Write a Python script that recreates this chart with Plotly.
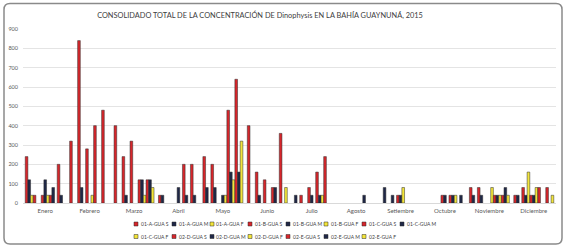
import plotly.graph_objects as go

months = ["Enero", "Febrero", "Marzo", "Abril", "Mayo", "Junio", "Julio",
          "Agosto", "Setiembre", "Octubre", "Noviembre", "Diciembre"]

series_names = ["01-A-GUA S", "01-A-GUA M", "01-A-GUA F",
                "01-B-GUA S", "01-B-GUA M", "01-B-GUA F",
                "01-C-GUA S", "01-C-GUA M", "01-C-GUA F",
                "02-D-GUA S", "02-D-GUA M", "02-D-GUA F",
                "02-E-GUA S", "02-E-GUA M", "02-E-GUA F"]

a_s = [240, 320, 400, 40, 240, 400, 0, 0, 0, 0, 80, 40]
a_m = [120, 0, 0, 40, 80, 0, 40, 0, 80, 0, 40, 40]
a_f = [40, 0, 0, 0, 0, 0, 0, 0, 0, 0, 0, 0]
b_s = [40, 840, 240, 0, 200, 160, 40, 0, 0, 0, 80, 80]
b_m = [0, 80, 40, 0, 80, 40, 0, 0, 40, 0, 40, 40]
b_f = [0, 0, 0, 0, 0, 0, 0, 0, 0, 0, 0, 160]
c_s = [40, 280, 320, 0, 0, 120, 80, 0, 40, 40, 0, 40]
c_m = [120, 0, 0, 80, 40, 0, 40, 0, 40, 40, 0, 40]
c_f = [40, 40, 0, 0, 40, 0, 0, 0, 80, 0, 80, 80]
d_s = [40, 400, 120, 200, 480, 80, 160, 0, 0, 40, 40, 80]
d_m = [80, 0, 120, 40, 160, 80, 40, 40, 0, 40, 40, 0]
d_f = [0, 0, 40, 0, 120, 0, 40, 0, 0, 40, 40, 0]
e_s = [200, 480, 120, 200, 640, 360, 240, 0, 0, 0, 40, 80]
e_m = [40, 0, 120, 40, 160, 0, 0, 0, 0, 40, 80, 0]
e_f = [0, 0, 80, 0, 320, 80, 0, 0, 0, 0, 40, 40]

series_values = [a_s, a_m, a_f, b_s, b_m, b_f, c_s, c_m, c_f,
                 d_s, d_m, d_f, e_s, e_m, e_f]

depth_colors = {"S": "#D7262B", "M": "#1F2747", "F": "#F3E53A"}
FONT = "Lato, 'Open Sans', sans-serif"

W, H = 567, 248
ML, MR, MT, MB = 23, 11, 29, 45
PW, PH = W - ML - MR, H - MT - MB


def px_x(px):
    return (px - ML) / PW


def px_y(py):
    return (H - MB - py) / PH


fig = go.Figure()
for name, vals in zip(series_names, series_values):
    col = depth_colors[name[-1]]
    fig.add_trace(go.Bar(
        x=months, y=[v if v else None for v in vals], name=name,
        marker=dict(color=col, line=dict(color="#2a2a2a", width=0.5)),
        showlegend=False,
    ))

shapes = []
annotations = []

# custom legend (two rows, as in the reference)
for i, name in enumerate(series_names):
    row = 0 if i < 8 else 1
    col = i if i < 8 else i - 8
    lx = 134 + col * 38
    ly = 224 if row == 0 else 236.5
    shapes.append(dict(
        type="rect", xref="paper", yref="paper",
        xsizemode="pixel", ysizemode="pixel",
        xanchor=px_x(lx), yanchor=px_y(ly),
        x0=0, x1=4, y0=-2, y1=2,
        fillcolor=depth_colors[name[-1]], line=dict(color="#2a2a2a", width=0.5),
    ))
    annotations.append(dict(
        text=name, xref="paper", yref="paper", x=px_x(lx + 4.5), y=px_y(ly),
        xanchor="left", yanchor="middle", showarrow=False,
        font=dict(family=FONT, size=5.0, color="#404040"),
    ))

# rounded chart border
bx0, bx1, by0, by1, r = 4, 562, 3.5, 244, 6
x0, x1 = px_x(bx0), px_x(bx1)
y0, y1 = px_y(by1), px_y(by0)
rx, ry = r / PW, r / PH
path = (f"M {x0+rx},{y1} L {x1-rx},{y1} Q {x1},{y1} {x1},{y1-ry} "
        f"L {x1},{y0+ry} Q {x1},{y0} {x1-rx},{y0} L {x0+rx},{y0} "
        f"Q {x0},{y0} {x0},{y0+ry} L {x0},{y1-ry} Q {x0},{y1} {x0+rx},{y1} Z")
shapes.append(dict(type="path", xref="paper", yref="paper", path=path,
                   line=dict(color="#8a8a8a", width=1.5), layer="above"))

fig.update_layout(
    width=W, height=H,
    margin=dict(l=ML, r=MR, t=MT, b=MB),
    paper_bgcolor="white", plot_bgcolor="white",
    barmode="group", bargap=0.1, bargroupgap=0,
    title=dict(
        text="CONSOLIDADO TOTAL DE LA CONCENTRACIÓN DE Dinophysis EN LA BAHÍA GUAYNUNÁ, 2015",
        x=260 / W, xref="container", xanchor="center",
        y=1 - 15 / H, yref="container", yanchor="middle",
        font=dict(family=FONT, size=7.4, color="#404040"),
    ),
    xaxis=dict(showgrid=False, showline=True, linecolor="#d9d9d9", linewidth=1,
               ticks="", tickfont=dict(family=FONT, size=6, color="#595959"),
               ticklabelstandoff=2, automargin=False),
    yaxis=dict(range=[0, 900], dtick=100, showgrid=True, gridcolor="#e4e4e4",
               gridwidth=1, zeroline=False, showline=False, ticks="",
               tickfont=dict(family=FONT, size=5.5, color="#595959"),
               ticklabelstandoff=4, automargin=False),
    shapes=shapes, annotations=annotations,
    showlegend=False,
)

fig.write_html("out.html",
               config={"displayModeBar": False},
               post_script="document.body.style.margin='0';document.body.style.overflow='hidden';")
